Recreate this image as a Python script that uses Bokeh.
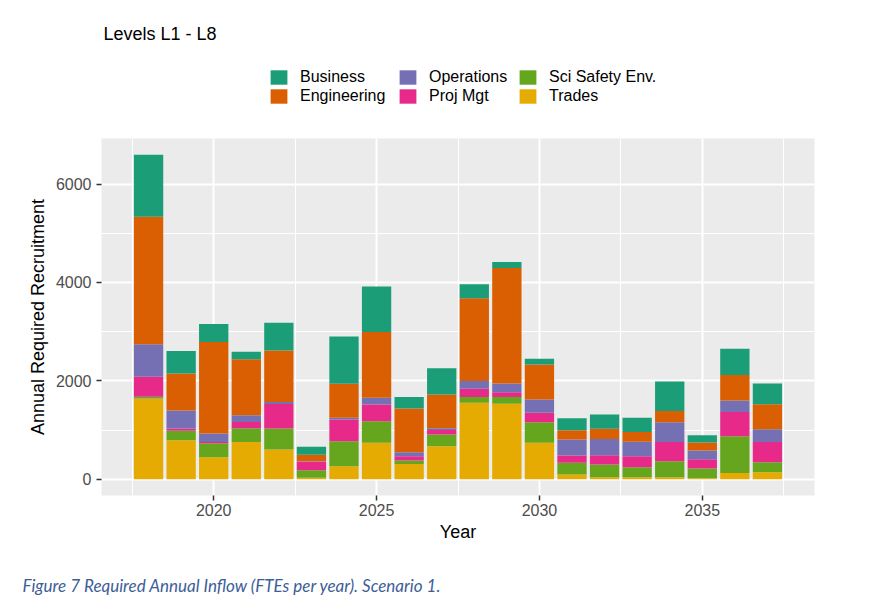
from bokeh.plotting import figure
from bokeh.models import (ColumnDataSource, FixedTicker, Legend, LegendItem,
                          Range1d, Title, Label)
from bokeh.layouts import column
from bokeh.embed import file_html
from bokeh.resources import INLINE

# ---- data ----
years = [2018, 2019, 2020, 2021, 2022, 2023, 2024, 2025, 2026, 2027,
         2028, 2029, 2030, 2031, 2032, 2033, 2034, 2035, 2036, 2037]
trades = [1640, 795, 450, 755, 605, 30, 265, 740, 310, 670,
          1555, 1535, 740, 95, 40, 40, 40, 20, 130, 145]
sci_safety_env = [35, 190, 280, 280, 425, 155, 510, 440, 70, 240,
                  115, 135, 420, 240, 260, 205, 325, 200, 745, 200]
proj_mgt = [410, 45, 25, 130, 500, 170, 440, 340, 90, 90,
            170, 100, 190, 150, 190, 225, 390, 185, 490, 410]
operations = [660, 370, 175, 135, 40, 10, 35, 135, 80, 35,
              155, 175, 270, 325, 330, 290, 405, 180, 235, 260]
engineering = [2590, 750, 1860, 1140, 1045, 135, 690, 1340, 890, 690,
               1685, 2350, 710, 185, 205, 200, 225, 160, 520, 510]
business = [1260, 455, 365, 150, 565, 160, 960, 920, 230, 530,
            285, 120, 120, 245, 290, 290, 600, 150, 530, 420]

y_ticks = [0, 2000, 4000, 6000]
y_minor = [1000, 3000, 5000]
x_ticks = [2020, 2025, 2030, 2035]
x_minor = [2017.5, 2022.5, 2027.5, 2032.5, 2037.5]

colors = {"Business": "#1B9E77", "Engineering": "#D95F02",
          "Operations": "#7570B3", "Proj Mgt": "#E7298A",
          "Sci Safety Env.": "#66A61E", "Trades": "#E6AB02"}

FONT = "Liberation Sans"
W = 880
HEAD_H = 138
FOOT_H = 60
MAIN_H = 607 - HEAD_H - FOOT_H

src = ColumnDataSource(dict(year=years, trades=trades, sci=sci_safety_env,
                            proj=proj_mgt, ops=operations, eng=engineering,
                            bus=business))
stack_keys = ["trades", "sci", "proj", "ops", "eng", "bus"]
stack_names = ["Trades", "Sci Safety Env.", "Proj Mgt", "Operations",
               "Engineering", "Business"]
stack_colors = [colors[n] for n in stack_names]

totals = [sum(v) for v in zip(trades, sci_safety_env, proj_mgt, operations,
                              engineering, business)]
ymax = max(totals)
pad = ymax * 0.05
x_lo = min(years) - 0.45
x_hi = max(years) + 0.45
xpad = (x_hi - x_lo) * 0.05


def blank(fig):
    fig.outline_line_color = None
    fig.background_fill_color = "white"
    fig.border_fill_color = "white"
    fig.xgrid.visible = False
    fig.ygrid.visible = False


# ---------------- header: title + legend ----------------
head = figure(width=W, height=HEAD_H, output_backend="svg",
              toolbar_location=None, x_axis_type=None, y_axis_type=None,
              x_range=Range1d(x_lo - xpad, x_hi + xpad),
              y_range=Range1d(-pad, ymax + pad), min_border=0)
blank(head)
# hidden copy of the stacked series: supplies the legend swatches only
key_rs = head.vbar_stack(stack_keys, x="year", width=0.9, source=src,
                         color=stack_colors, line_width=0)
for r in key_rs:
    r.visible = False
key_r = dict(zip(stack_names, key_rs))

head.add_layout(Label(x=2, y=HEAD_H - 33, x_units="screen",
                      y_units="screen", text="Levels L1 - L8",
                      text_font=FONT, text_font_size="18px",
                      text_color="black", text_baseline="middle"))

cols = [["Business", "Engineering"], ["Operations", "Proj Mgt"],
        ["Sci Safety Env.", "Trades"]]
col_x = [167, 296, 416]
for names, vx in zip(cols, col_x):
    lg = Legend(items=[LegendItem(label=n, renderers=[key_r[n]]) for n in names],
                location=(vx, HEAD_H - 105), orientation="vertical",
                glyph_width=21, glyph_height=18, label_height=18,
                label_standoff=11, spacing=1, padding=0, margin=0,
                border_line_color=None, background_fill_alpha=0,
                inactive_fill_alpha=0,
                label_text_font=FONT, label_text_font_size="16px",
                label_text_color="black")
    head.add_layout(lg)

# ---------------- main plot ----------------
p = figure(width=W, height=MAIN_H, output_backend="svg", toolbar_location=None,
           x_range=Range1d(x_lo - xpad, x_hi + xpad),
           y_range=Range1d(-pad, ymax + pad),
           min_border_left=101, min_border_right=66,
           min_border_top=0, min_border_bottom=52)

p.vbar_stack(stack_keys, x="year", width=0.9, source=src,
             color=stack_colors, line_width=0)

p.background_fill_color = "#EBEBEB"
p.border_fill_color = "white"
p.outline_line_color = None

p.xaxis.ticker = FixedTicker(ticks=x_ticks, minor_ticks=x_minor)
p.yaxis.ticker = FixedTicker(ticks=y_ticks, minor_ticks=y_minor)
for g in (p.xgrid, p.ygrid):
    g.grid_line_color = "white"
    g.grid_line_width = 2
    g.minor_grid_line_color = "white"
    g.minor_grid_line_width = 1

for ax in (p.xaxis, p.yaxis):
    ax.axis_line_color = None
    ax.major_tick_line_color = "#333333"
    ax.major_tick_line_width = 1.5
    ax.major_tick_out = 5
    ax.major_tick_in = 0
    ax.minor_tick_line_color = None
    ax.major_label_text_font = FONT
    ax.major_label_text_font_size = "16px"
    ax.major_label_text_color = "#4D4D4D"
    ax.axis_label_text_font = FONT
    ax.axis_label_text_font_size = "18px"
    ax.axis_label_text_font_style = "normal"
    ax.axis_label_text_color = "black"
p.xaxis.axis_label = "Year"
p.yaxis.axis_label = "Annual Required Recruitment"
p.xaxis.major_label_standoff = 3
p.xaxis.axis_label_standoff = 3
p.yaxis.major_label_standoff = 5
p.yaxis.axis_label_standoff = 5

# ---------------- footer: caption ----------------
foot = figure(width=W, height=FOOT_H, output_backend="svg",
              toolbar_location=None, x_axis_type=None, y_axis_type=None,
              x_range=Range1d(0, 1), y_range=Range1d(0, 1), min_border=0)
blank(foot)
foot.add_layout(Title(text="Figure 7 Required Annual Inflow (FTEs per year). Scenario 1.",
                      align="left", offset=-79, text_font="Lato",
                      text_font_style="italic", text_font_size="17px",
                      text_color="#3C5E97", standoff=24), "below")

layout = column(head, p, foot, spacing=0)
open("out.html", "w").write(file_html(layout, INLINE))
